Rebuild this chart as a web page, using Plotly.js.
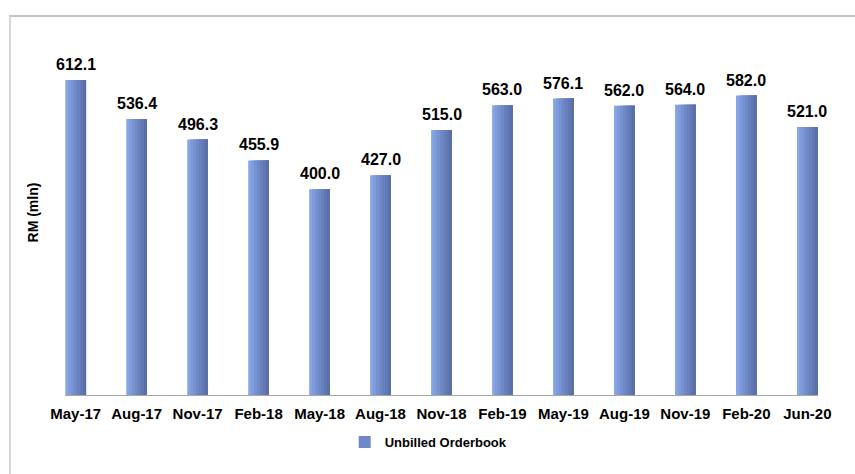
<!DOCTYPE html>
<html>
<head>
<meta charset="utf-8">
<script src="https://cdn.plot.ly/plotly-3.0.1.min.js"></script>
<style>
  html, body { margin:0; padding:0; background:#fff; }
  #wrap { position:relative; width:855px; height:474px; overflow:hidden; }
  #chart { width:855px; height:474px; }
  #frame { position:absolute; left:9px; top:15px; width:900px; height:500px;
           border-top:2px solid #c4c4c4; border-left:2px solid #d6d6d6; pointer-events:none; }
</style>
</head>
<body>
<div id="wrap">
  <div id="chart"></div>
  <div id="frame"></div>
</div>
<script>
const categories = ["May-17","Aug-17","Nov-17","Feb-18","May-18","Aug-18","Nov-18","Feb-19","May-19","Aug-19","Nov-19","Feb-20","Jun-20"];
const unbilledOrderbook = [612.1, 536.4, 496.3, 455.9, 400.0, 427.0, 515.0, 563.0, 576.1, 562.0, 564.0, 582.0, 521.0];
const seriesName = "Unbilled Orderbook";
const yTitle = "RM (mln)";

// Horizontal gradient approximated by overlapping strips of each bar
const stripColors = ["#87a4e5","#7f9bdb","#7792d1","#6f89c7","#6881bd","#6178b2","#5a6fa7"];
const barWidth = 0.34;
const n = stripColors.length;
const fontFam = "Liberation Sans, Arial, sans-serif";

const traces = stripColors.map((c, i) => ({
  type: "bar",
  x: categories,
  y: unbilledOrderbook,
  name: seriesName,
  width: barWidth - i * barWidth / n,
  offset: -barWidth / 2 + i * barWidth / n,
  marker: { color: c, line: { width: 0 } },
  showlegend: false,
  hoverinfo: "x+y"
}));

// legend entry
traces.push({
  type: "bar",
  x: [categories[0]],
  y: [null],
  name: seriesName,
  marker: { color: "#6f88c8" },
  showlegend: true,
  hoverinfo: "skip"
});

// value labels above bars
const annotations = categories.map((c, i) => ({
  x: c, y: unbilledOrderbook[i], xref: "x", yref: "y",
  text: unbilledOrderbook[i].toFixed(1),
  showarrow: false, yanchor: "bottom", xanchor: "center", yshift: 5,
  font: { family: fontFam, size: 16, color: "#000", weight: "bold" }
}));

const layout = {
  width: 855, height: 474,
  margin: { l: 65, r: 37, t: 30, b: 79 },
  paper_bgcolor: "#fff", plot_bgcolor: "rgba(0,0,0,0)",
  barmode: "overlay",
  font: { family: fontFam, color: "#000" },
  xaxis: {
    type: "category",
    range: [-0.175, 12.175],
    showline: true, linecolor: "#a6a6a6", linewidth: 1,
    ticks: "", showgrid: false, zeroline: false,
    tickfont: { family: fontFam, size: 15, color: "#000", weight: "bold" },
    ticklabelstandoff: 5
  },
  yaxis: {
    range: [0, 709.3],
    showgrid: false, zeroline: false, showline: false,
    showticklabels: false, ticks: "",
    title: { text: yTitle, font: { family: fontFam, size: 14, color: "#000", weight: "bold" }, standoff: 22 }
  },
  legend: {
    orientation: "h", x: 0.483, xanchor: "center", y: -0.129, yanchor: "middle",
    font: { family: fontFam, size: 13, color: "#000", weight: "bold" }
  },
  annotations: annotations,
  showlegend: true
};

Plotly.newPlot("chart", traces, layout, { displayModeBar: false, staticPlot: true });
</script>
</body>
</html>
